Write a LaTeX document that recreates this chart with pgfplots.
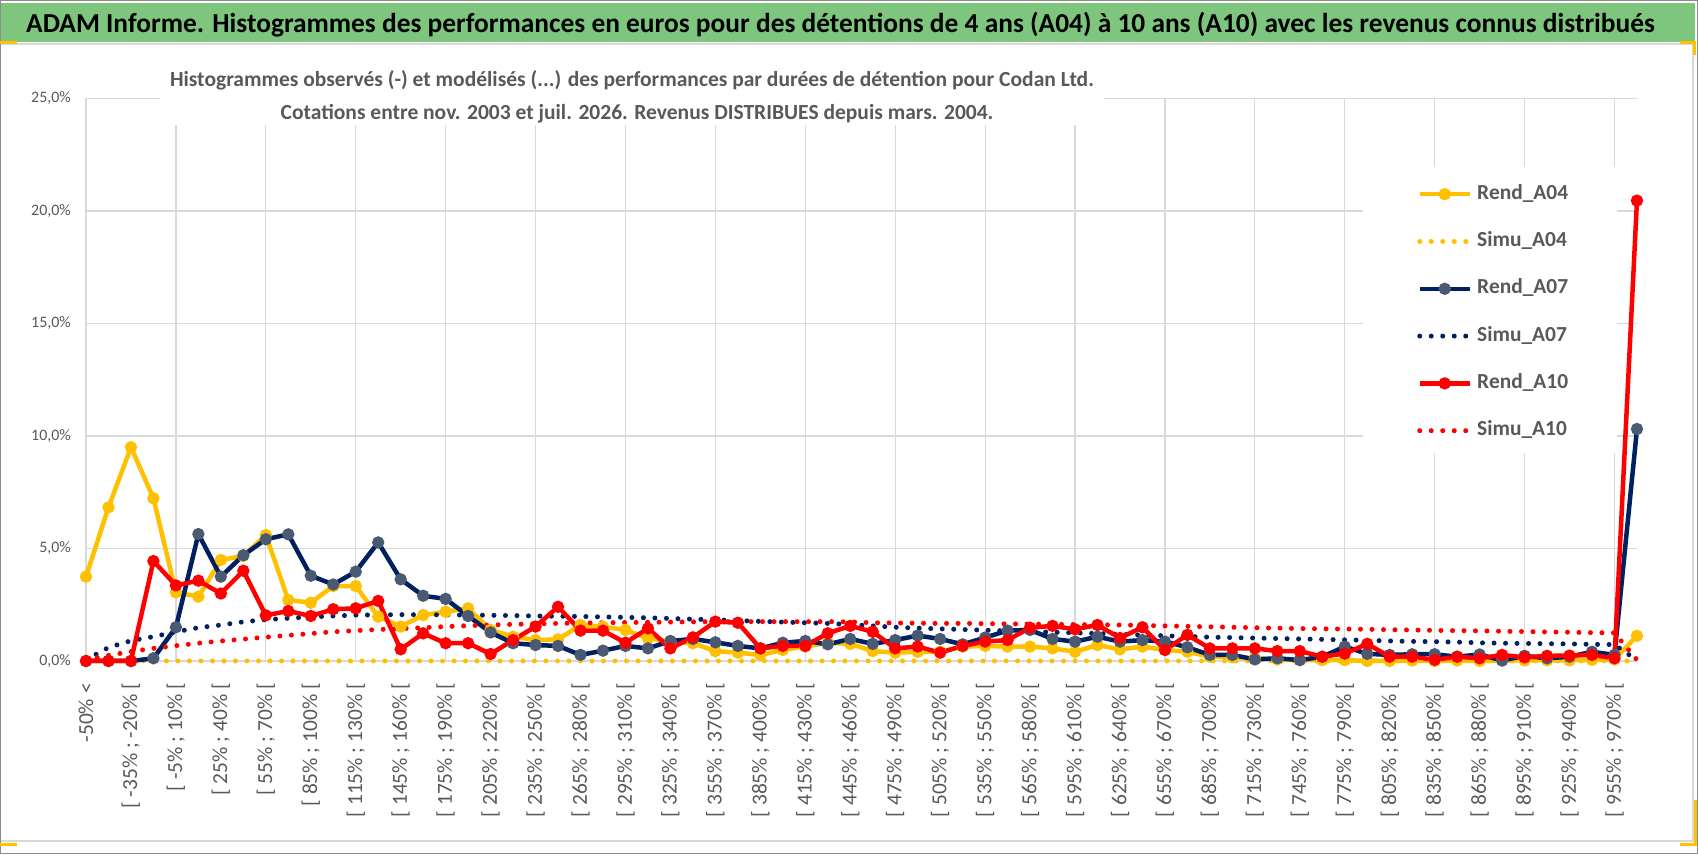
\documentclass[border=0pt]{standalone}
\usepackage{pgfplots}
\pgfplotsset{compat=1.18}
\usepackage{pgfplotstable}
\usepackage{fontspec}
\setmainfont{Carlito}
\definecolor{yel}{HTML}{FFC000}
\definecolor{navy}{HTML}{002060}
\definecolor{redA}{HTML}{FF0000}
\definecolor{slate}{HTML}{4A5A72}
\definecolor{gridgrey}{HTML}{D9D9D9}
\definecolor{textgrey}{HTML}{595959}
\definecolor{bannergreen}{RGB}{126,198,126}
\definecolor{framegrey}{HTML}{8C8C8C}

\pgfplotstableread{
x r04 s04 r07 s07 r10 s10
0 3.75 0 0 0.05 0 0.05
1 6.83 0 0 0.60 0 0.25
2 9.50 0 0 0.90 0 0.42
3 7.23 0 0.12 1.08 4.44 0.56
4 3.05 0 1.50 1.30 3.36 0.68
5 2.86 0 5.64 1.48 3.57 0.79
6 4.49 0 3.75 1.60 3.00 0.89
7 4.67 0 4.70 1.74 4.01 0.97
8 5.60 0 5.41 1.84 2.03 1.06
9 2.71 0 5.63 1.90 2.22 1.14
10 2.59 0 3.79 1.96 2.00 1.22
11 3.33 0 3.40 2.00 2.30 1.30
12 3.33 0 3.97 2.04 2.34 1.35
13 1.97 0 5.27 2.05 2.67 1.40
14 1.53 0 3.63 2.06 0.52 1.44
15 2.04 0 2.90 2.06 1.23 1.48
16 2.19 0 2.76 2.05 0.79 1.53
17 2.34 0 2.00 2.04 0.79 1.57
18 1.38 0 1.27 2.03 0.31 1.60
19 1.08 0 0.79 2.02 0.93 1.63
20 0.93 0 0.71 2.00 1.53 1.65
21 0.96 0 0.67 1.99 2.41 1.67
22 1.60 0 0.27 1.98 1.35 1.69
23 1.52 0 0.46 1.96 1.35 1.70
24 1.38 0 0.67 1.94 0.81 1.71
25 1.01 0 0.56 1.92 1.45 1.72
26 0.86 0 0.89 1.89 0.56 1.73
27 0.79 0 0.98 1.86 1.05 1.74
28 0.44 0 0.83 1.83 1.75 1.75
29 0.37 0 0.67 1.80 1.70 1.75
30 0.27 0 0.56 1.76 0.56 1.75
31 0.49 0 0.81 1.73 0.67 1.75
32 0.64 0 0.89 1.70 0.67 1.75
33 0.81 0 0.74 1.67 1.23 1.75
34 0.76 0 0.98 1.62 1.56 1.74
35 0.44 0 0.76 1.56 1.30 1.70
36 0.37 0 0.93 1.50 0.56 1.69
37 0.41 0 1.13 1.46 0.64 1.68
38 0.41 0 0.98 1.43 0.37 1.67
39 0.64 0 0.74 1.40 0.67 1.67
40 0.67 0 1.04 1.37 0.86 1.66
41 0.64 0 1.35 1.34 0.93 1.65
42 0.64 0 1.38 1.31 1.48 1.64
43 0.56 0 0.98 1.28 1.56 1.63
44 0.41 0 0.86 1.25 1.41 1.62
45 0.71 0 1.08 1.22 1.60 1.61
46 0.52 0 0.86 1.19 1.02 1.60
47 0.64 0 0.93 1.15 1.50 1.58
48 0.49 0 0.86 1.12 0.49 1.56
49 0.41 0 0.61 1.09 1.16 1.54
50 0.19 0 0.27 1.06 0.56 1.52
51 0.16 0 0.27 1.04 0.56 1.50
52 0.12 0 0.07 1.02 0.56 1.48
53 0.07 0 0.12 1.00 0.44 1.46
54 0.04 0 0.04 0.98 0.44 1.44
55 0.04 0 0.19 0.96 0.19 1.43
56 0.04 0 0.64 0.94 0.33 1.42
57 0.00 0 0.32 0.92 0.76 1.41
58 0.00 0 0.27 0.89 0.19 1.39
59 0.02 0 0.30 0.87 0.19 1.38
60 0.00 0 0.30 0.86 0.05 1.36
61 0.02 0 0.19 0.84 0.19 1.35
62 0.00 0 0.29 0.81 0.12 1.34
63 0.03 0 0.02 0.79 0.27 1.32
64 0.02 0 0.23 0.78 0.16 1.31
65 0.03 0 0.12 0.77 0.23 1.29
66 0.03 0 0.19 0.76 0.24 1.28
67 0.05 0 0.41 0.74 0.27 1.26
68 0.07 0 0.27 0.73 0.12 1.25
69 1.12 0 10.31 0.03 20.46 0.05
}\datatable

\begin{document}
\begin{tikzpicture}[x=1bp,y=1bp]
\useasboundingbox (0,0) rectangle (1698,854);
\fill[white] (0,0) rectangle (1698,854);
\fill[bannergreen] (0,812) rectangle (1695,851);
\draw[gridgrey,line width=1.2bp] (0,810) -- (1693,810) -- (1693,13) -- (0,13);
\draw[framegrey,line width=1.5bp] (0.75,0.75) rectangle (1697.25,853.25);
\draw[yel,line width=3bp] (0,811) -- (17,811);
\draw[yel,line width=3bp] (1680,811) -- (1694,811) -- (1694,799);
\draw[yel,line width=3bp] (0,9) -- (17,9);
\draw[yel,line width=3bp] (1695,54) -- (1695,9) -- (1680,9);
\node[anchor=base west,inner sep=0pt] at (26,821) {\fontsize{27.5}{32}\selectfont\bfseries ADAM Informe. Histogrammes des performances en euros pour des détentions de 4 ans (A04) à 10 ans (A10) avec les revenus connus distribués};

\begin{axis}[
  at={(86bp,193bp)}, anchor=south west,
  scale only axis, width=1551bp, height=562.5bp,
  xmin=0, xmax=69, ymin=0, ymax=25,
  clip=false,
  axis line style={draw=none},
  major tick length=0pt,
  ymajorgrids, grid style={gridgrey,line width=1.2bp},
  ytick={0,5,10,15,20,25},
  yticklabels={{0,0\%},{5,0\%},{10,0\%},{15,0\%},{20,0\%},{25,0\%}},
  yticklabel style={anchor=east,inner sep=0pt,xshift=-15bp,font=\fontsize{16}{16}\selectfont,text=textgrey},
  xtick={0,2,...,68},
  xticklabels={{-50\% <},{[ -35\% ; -20\% [},{[ -5\% ; 10\% [},{[ 25\% ; 40\% [},{[ 55\% ; 70\% [},{[ 85\% ; 100\% [},{[ 115\% ; 130\% [},{[ 145\% ; 160\% [},{[ 175\% ; 190\% [},{[ 205\% ; 220\% [},{[ 235\% ; 250\% [},{[ 265\% ; 280\% [},{[ 295\% ; 310\% [},{[ 325\% ; 340\% [},{[ 355\% ; 370\% [},{[ 385\% ; 400\% [},{[ 415\% ; 430\% [},{[ 445\% ; 460\% [},{[ 475\% ; 490\% [},{[ 505\% ; 520\% [},{[ 535\% ; 550\% [},{[ 565\% ; 580\% [},{[ 595\% ; 610\% [},{[ 625\% ; 640\% [},{[ 655\% ; 670\% [},{[ 685\% ; 700\% [},{[ 715\% ; 730\% [},{[ 745\% ; 760\% [},{[ 775\% ; 790\% [},{[ 805\% ; 820\% [},{[ 835\% ; 850\% [},{[ 865\% ; 880\% [},{[ 895\% ; 910\% [},{[ 925\% ; 940\% [},{[ 955\% ; 970\% [}},
  xticklabel style={rotate=90,anchor=east,inner sep=0pt,font=\fontsize{21.5}{21.5}\selectfont,text=textgrey},
  xticklabel shift=22bp,
  extra x ticks={0,4,...,68},
  extra x tick labels={},
  extra x tick style={xmajorgrids=true},
  legend image code/.code={\draw[mark repeat=2,mark phase=2,#1] plot coordinates {(0bp,0bp) (25bp,0bp) (50bp,0bp)};},
  legend style={at={(0.8582,0.848)},anchor=north west,draw=none,fill=none,inner sep=0pt,
    row sep=27.3bp,column sep=5bp,
    font=\fontsize{21.5}{21.5}\selectfont\bfseries,text=textgrey,
    nodes={inner sep=0pt,text height=15bp,text depth=5bp}},
  legend cell align=left,
  rend/.style={line width=4.5bp,mark=*,mark size=3.8bp},
  simu/.style={line width=5bp,line cap=round,dash pattern=on 0bp off 11.5bp},
]
\fill[white] (rel axis cs:0.8233,0.878) rectangle (rel axis cs:0.987,0.37);
\addplot[rend,color=yel,mark options={fill=yel,draw=yel}] table[x=x,y=r04] {\datatable};
\addlegendentry{Rend\_A04}
\addplot[simu,color=yel] table[x=x,y=s04] {\datatable};
\addlegendentry{Simu\_A04}
\addplot[rend,color=navy,mark options={fill=slate,draw=slate}] table[x=x,y=r07] {\datatable};
\addlegendentry{Rend\_A07}
\addplot[simu,color=navy] table[x=x,y=s07] {\datatable};
\addlegendentry{Simu\_A07}
\addplot[rend,color=redA,mark options={fill=redA,draw=redA}] table[x=x,y=r10] {\datatable};
\addlegendentry{Rend\_A10}
\addplot[simu,color=redA] table[x=x,y=s10] {\datatable};
\addlegendentry{Simu\_A10}
\end{axis}

\fill[white] (160,729) rectangle (1104,794);
\node[anchor=base,inner sep=0pt,text=textgrey] at (632,767) {\fontsize{21.6}{25}\selectfont\bfseries Histogrammes observés (-) et modélisés (...) des performances par durées de détention pour Codan Ltd.};
\node[anchor=base,inner sep=0pt,text=textgrey] at (637,734) {\fontsize{21.6}{25}\selectfont\bfseries Cotations entre nov. 2003 et juil. 2026. Revenus DISTRIBUES depuis mars. 2004.};
\end{tikzpicture}
\end{document}
